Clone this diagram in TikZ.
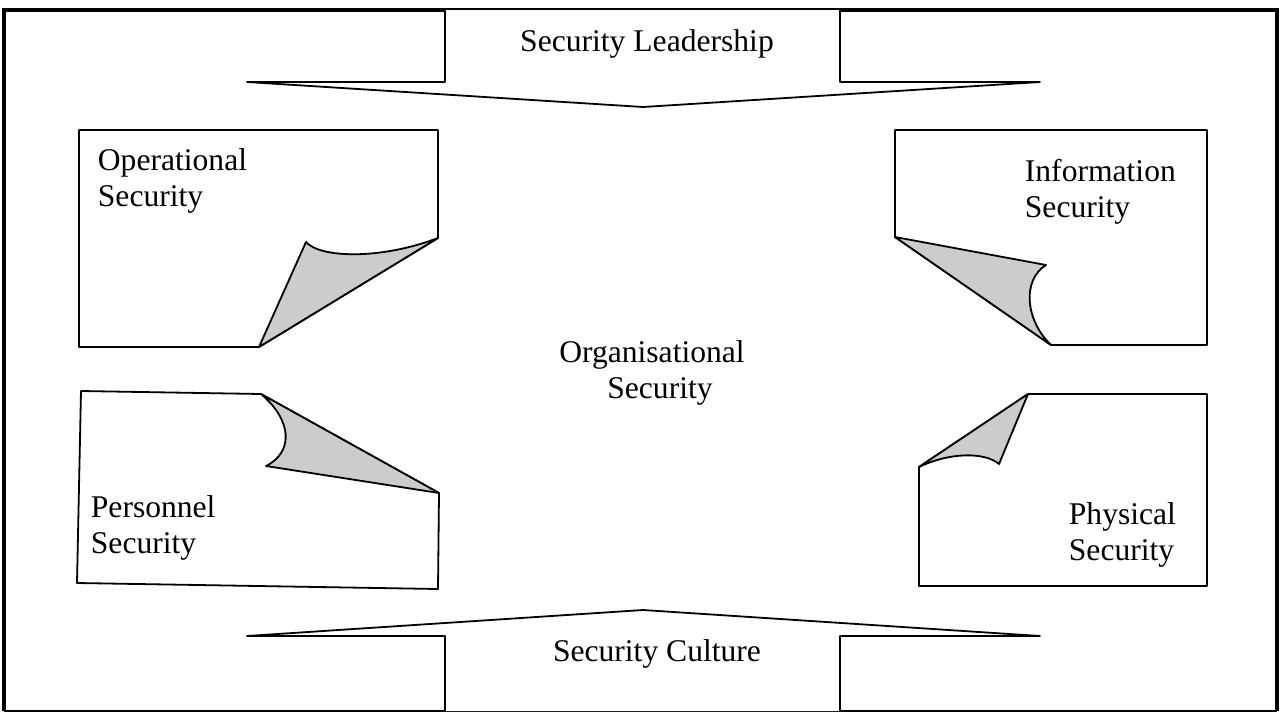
\documentclass[tikz,border=0pt]{standalone}
\usepackage{fontspec}
\setmainfont{Liberation Serif}
\begin{document}
\begin{tikzpicture}[x=0.5pt, y=-0.5pt, line width=0.9pt, line join=round,
    page/.style={draw, fill=white},
    curl/.style={draw, fill=gray!40},
    lbl/.style={font=\fontsize{15.8}{18}\selectfont, inner sep=0pt}]
  \useasboundingbox (0,0) rectangle (1281,713);

  % Drawing the outer frame
  \draw[line width=2.4pt, line join=miter] (4,711) -- (4,10) -- (1277,10) -- (1277,711); % Thick sides
  \draw (4,711) -- (1277,711); % Thin bottom

  % Arrow from the top
  \draw[page] (445,10) -- (445,82) -- (247,82) -- (643,107) -- (1040,82) -- (840,82) -- (840,10);
  \node[lbl, anchor=base] (lead) at (647,51) {Security Leadership};

  % Arrow from the bottom
  \draw[page] (445,711) -- (445,636) -- (247,636) -- (643,610) -- (1040,636) -- (840,636) -- (840,711);
  \node[lbl, anchor=base] (culture) at (657,661) {Security Culture};

  % Centre text (base anchor sits on the last line)
  \node[lbl, anchor=base, align=center] (org) at (652,398) {Organisational\\\hspace*{8pt}Security};

  % Top left page, corner curled up
  \draw[page] (79,130) -- (438,130) -- (438,238) -- (259,347) -- (79,347) -- cycle;
  \draw[curl] (259,347) -- (306,242) .. controls (320,258) and (380,260) .. (438,238) -- cycle;
  \node[lbl, anchor=base west, align=left] (opsec) at (97,206) {Operational\\Security};

  % Top right page
  \draw[page] (895,130) -- (1207,130) -- (1207,345) -- (1051,345) -- (895,237) -- cycle;
  \draw[curl] (895,237) -- (1046,265) .. controls (1022,280) and (1025,320) .. (1051,345) -- cycle;
  \node[lbl, anchor=base west, align=left] (infosec) at (1024,217) {Information\\Security};

  % Bottom left page, a little skewed
  \draw[page] (81,391) -- (261,394) -- (439,493) -- (438,589) -- (77,583) -- cycle;
  \draw[curl] (439,493) -- (266,466) .. controls (294,452) and (292,420) .. (261,394) -- cycle;
  \node[lbl, anchor=base west, align=left] (perssec) at (90,553) {Personnel\\Security};

  % Bottom right page
  \draw[page] (1028,394) -- (1207,394) -- (1207,586) -- (919,586) -- (919,467) -- cycle;
  \draw[curl] (1028,394) -- (999,464) .. controls (985,452) and (950,452) .. (919,467) -- cycle;
  \node[lbl, anchor=base west, align=left] (physsec) at (1068,560) {Physical\\Security};
\end{tikzpicture}
\end{document}
